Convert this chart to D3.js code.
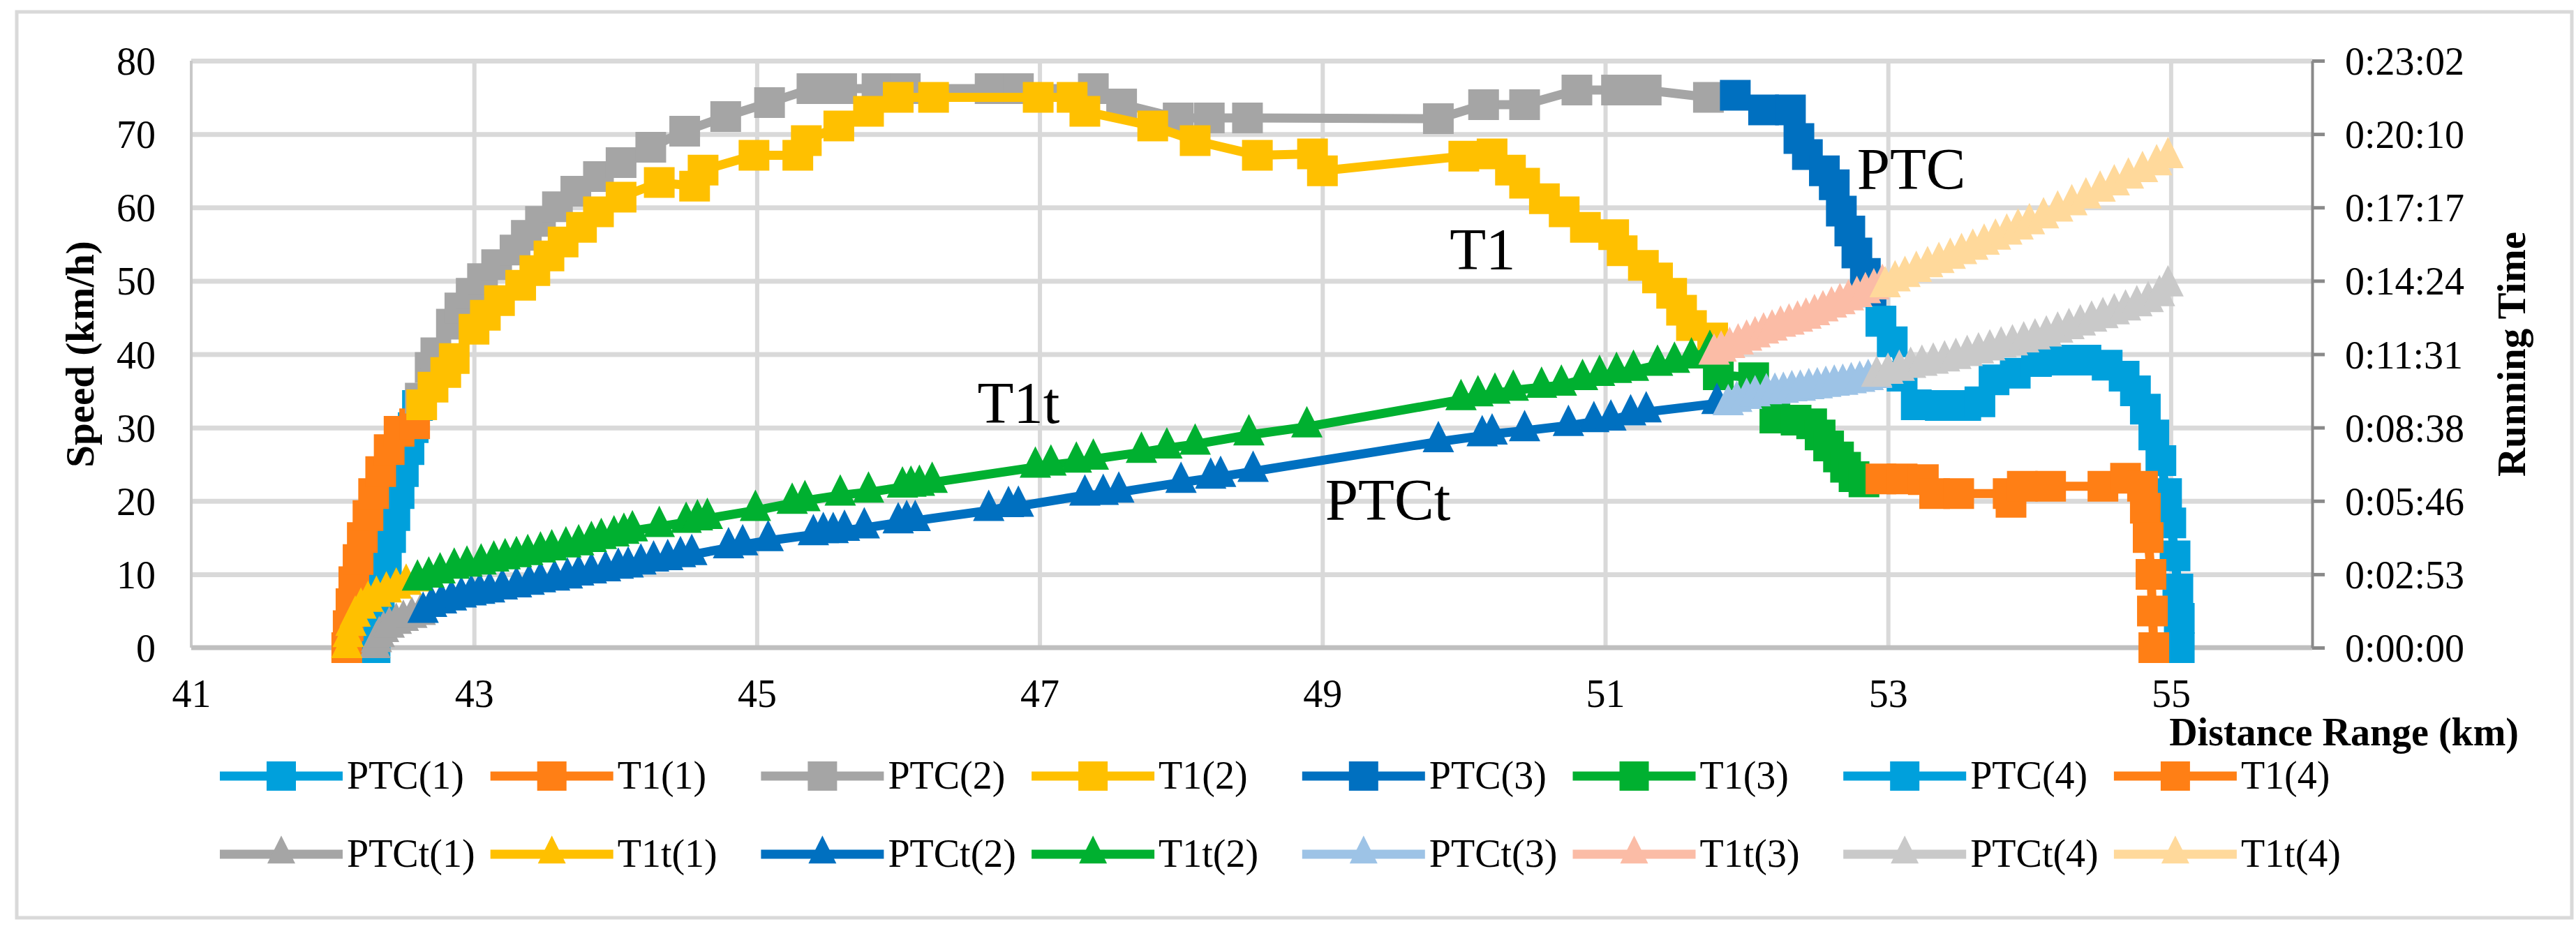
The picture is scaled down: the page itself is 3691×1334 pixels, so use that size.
<!DOCTYPE html>
<html><head><meta charset="utf-8">
<script src="https://cdn.jsdelivr.net/npm/d3@7"></script>
<style>
body{margin:0;background:#fff;}
text{font-family:"Liberation Serif","Times New Roman",serif;fill:#000;}
</style>
</head><body>
<svg id="chart" width="3691" height="1334"></svg>
<script>
// ---------- tick labels ----------
const X_TICKS = [41, 43, 45, 47, 49, 51, 53, 55];
const Y_TICKS = [0, 10, 20, 30, 40, 50, 60, 70, 80];
const TIME_TICK_LABELS = ["0:00:00","0:02:53","0:05:46","0:08:38","0:11:31","0:14:24","0:17:17","0:20:10","0:23:02"];
const TIME_MAX_S = 1382.4;   // 0:23:02.4
const X_DOMAIN = [41, 56];
const Y_DOMAIN = [0, 80];

// ---------- speed series: [distance km, speed km/h] ----------
const ptc1 = [[42.30,0],[42.31,3],[42.33,6],[42.35,9],[42.38,12],[42.41,15],[42.44,18],[42.47,21],[42.50,24],[42.54,27],[42.57,30],[42.60,33]];
const t1_1 = [[42.10,0],[42.11,3],[42.13,6],[42.15,9],[42.18,12],[42.21,15],[42.25,18],[42.29,21],[42.34,24],[42.40,27],[42.47,29.5],[42.58,30.5]];
const ptc2 = [[42.62,34],[42.69,38.2],[42.73,40.2],[42.84,44.1],[42.90,46.3],[42.98,48.3],[43.06,50.3],[43.16,52.2],[43.29,54.2],[43.37,56.2],[43.47,58.1],[43.59,60.1],[43.72,62.2],[43.88,64.2],[44.04,66.1],[44.25,68.2],[44.49,70.4],[44.78,72.4],[45.09,74.3],[45.39,76.2],[45.60,76.2],[45.85,76.2],[46.05,76.2],[46.65,76.2],[46.85,76.2],[47.38,76.2],[47.58,74.1],[47.98,72.2],[48.20,72.2],[48.47,72.2],[49.82,72.1],[50.14,74.0],[50.43,74.0],[50.80,76.0],[51.08,76.0],[51.29,76.0],[51.73,75.0]];
const t1_2 = [[42.63,33.1],[42.71,35.5],[42.80,37.5],[42.86,39.4],[43.00,43.4],[43.08,45.3],[43.18,47.3],[43.33,49.4],[43.43,51.4],[43.53,53.4],[43.63,55.3],[43.76,57.3],[43.88,59.4],[44.04,61.4],[44.31,63.4],[44.56,62.9],[44.62,65.1],[44.98,67.1],[45.29,67.1],[45.35,69.1],[45.58,71.1],[45.79,73.1],[46.00,75.0],[46.25,75.0],[46.99,75.0],[47.23,75.0],[47.32,73.1],[47.80,71.1],[48.10,69.1],[48.54,67.1],[48.93,67.3],[49.00,65.0],[50.00,67.0],[50.20,67.3],[50.33,65.1],[50.43,63.3],[50.57,61.2],[50.71,59.4],[50.86,57.3],[51.06,56.3],[51.12,54.1],[51.27,52.1],[51.37,50.4],[51.47,48.3],[51.54,46.0],[51.61,43.9],[51.76,42.2]];
const ptc3 = [[51.92,75.3],[52.12,73.3],[52.31,73.3],[52.37,69.4],[52.43,67.2],[52.55,65.0],[52.62,63.1],[52.67,59.5],[52.73,56.8],[52.78,53.8],[52.84,51.0],[52.88,48.5],[52.95,44.5]];
const t1_3 = [[51.80,37.2],[52.05,36.8],[52.20,31.3],[52.35,31.0],[52.46,30.5],[52.52,29.0],[52.58,27.5],[52.65,26.0],[52.70,24.6],[52.76,23.3],[52.83,22.6]];
const ptc4 = [[52.95,44.5],[53.03,41.7],[53.10,37.0],[53.20,33.1],[53.37,33.0],[53.55,33.0],[53.65,33.5],[53.75,36.5],[53.90,37.4],[54.05,39.0],[54.20,39.2],[54.40,39.2],[54.55,38.5],[54.67,37.0],[54.75,35.0],[54.82,32.5],[54.88,29.0],[54.93,25.5],[54.97,21.0],[55.00,17.0],[55.03,12.5],[55.05,8.0],[55.06,4.0],[55.06,0]];
const t1_4 = [[52.95,23.0],[53.10,23.0],[53.25,22.9],[53.33,21.0],[53.50,21.0],[53.85,21.0],[53.87,19.8],[53.95,22.0],[54.15,22.0],[54.52,22.0],[54.68,23.1],[54.80,22.0],[54.82,19.0],[54.84,15.0],[54.86,10.0],[54.87,5.0],[54.88,0]];

// ---------- running-time series: [distance km, running time s] ----------
const ptct1 = [[42.30,0],[42.31,14],[42.33,26],[42.36,38],[42.40,48],[42.45,57],[42.50,64],[42.56,71],[42.62,78]];
const t1t1 = [[42.10,0],[42.11,26],[42.13,52],[42.16,74],[42.20,93],[42.25,109],[42.31,121],[42.38,131],[42.45,140],[42.52,149],[42.60,157]];
const ptct2 = [[42.64,83],[42.70,97],[42.77,105],[42.84,112],[42.91,119],[42.98,124],[43.04,128],[43.11,131],[43.20,138],[43.30,143],[43.39,149],[43.47,155],[43.57,159],[43.66,164],[43.74,171],[43.83,176],[43.93,181],[44.02,187],[44.09,190],[44.18,197],[44.27,204],[44.37,207],[44.46,214],[44.54,219],[44.80,235],[44.90,242],[45.08,252],[45.40,266],[45.47,271],[45.54,271],[45.62,276],[45.76,282],[46.00,294],[46.06,299],[46.12,299],[46.64,323],[46.78,332],[46.85,333],[47.32,359],[47.45,361],[47.56,366],[48.00,389],[48.21,399],[48.28,403],[48.51,415],[49.82,485],[50.13,499],[50.20,503],[50.43,511],[50.74,523],[50.92,532],[51.04,536],[51.18,548],[51.29,555],[51.79,575]];
const t1t2 = [[42.60,159],[42.68,166],[42.76,176],[42.86,187],[42.95,192],[43.05,197],[43.14,204],[43.22,209],[43.30,214],[43.38,219],[43.47,225],[43.55,230],[43.65,237],[43.74,242],[43.83,250],[43.90,257],[43.99,263],[44.06,269],[44.12,275],[44.31,285],[44.50,295],[44.58,301],[44.65,304],[44.99,323],[45.25,340],[45.34,346],[45.59,359],[45.79,366],[46.03,378],[46.09,380],[46.15,382],[46.24,389],[46.97,425],[47.08,430],[47.26,437],[47.38,444],[47.72,460],[47.90,470],[48.10,479],[48.48,501],[48.89,520],[49.98,584],[50.10,593],[50.22,599],[50.35,606],[50.55,613],[50.69,618],[50.84,631],[50.96,641],[51.08,648],[51.20,653],[51.37,665],[51.49,672],[51.61,682],[51.74,700]];
const ptct3 = [[51.87,572],[51.93,580],[52.00,587],[52.06,593],[52.14,598],[52.20,599],[52.26,601],[52.32,605],[52.38,606],[52.44,610],[52.50,612],[52.56,615],[52.62,618],[52.68,620],[52.74,624],[52.80,627],[52.86,631],[52.92,636]];
const t1t3 = [[51.77,691],[51.82,698],[51.88,707],[51.94,715],[52.00,724],[52.06,732],[52.12,741],[52.18,748],[52.24,757],[52.30,762],[52.36,769],[52.42,776],[52.48,784],[52.54,793],[52.60,802],[52.66,810],[52.72,819],[52.78,827],[52.84,836],[52.90,845],[52.96,855]];
const ptct4 = [[52.92,639],[53.00,646],[53.08,653],[53.16,660],[53.24,665],[53.32,670],[53.40,675],[53.48,681],[53.56,688],[53.64,694],[53.72,701],[53.80,708],[53.88,713],[53.96,720],[54.04,727],[54.12,734],[54.20,743],[54.28,751],[54.36,760],[54.44,769],[54.52,777],[54.60,786],[54.68,795],[54.76,805],[54.84,815],[54.92,829],[54.98,852]];
const t1t4 = [[52.98,850],[53.05,864],[53.12,874],[53.20,886],[53.28,897],[53.36,907],[53.44,917],[53.52,928],[53.60,938],[53.68,950],[53.76,962],[53.84,974],[53.92,986],[54.00,998],[54.10,1012],[54.20,1028],[54.30,1043],[54.40,1059],[54.50,1075],[54.60,1090],[54.70,1106],[54.80,1121],[54.90,1137],[54.98,1154]];

// ---------- series table ----------
const SERIES = [
  {name:"PTC(1)",  data:ptc1,  color:"#00a0dc", mk:"sq",  axis:"v"},
  {name:"T1(1)",   data:t1_1,  color:"#ff7f15", mk:"sq",  axis:"v"},
  {name:"PTC(2)",  data:ptc2,  color:"#a5a5a5", mk:"sq",  axis:"v"},
  {name:"T1(2)",   data:t1_2,  color:"#ffc000", mk:"sq",  axis:"v"},
  {name:"PTC(3)",  data:ptc3,  color:"#0070c0", mk:"sq",  axis:"v"},
  {name:"T1(3)",   data:t1_3,  color:"#00b030", mk:"sq",  axis:"v"},
  {name:"PTC(4)",  data:ptc4,  color:"#00a0dc", mk:"sq",  axis:"v"},
  {name:"T1(4)",   data:t1_4,  color:"#ff7f15", mk:"sq",  axis:"v"},
  {name:"PTCt(1)", data:ptct1, color:"#a5a5a5", mk:"tri", axis:"t"},
  {name:"T1t(1)",  data:t1t1,  color:"#ffc000", mk:"tri", axis:"t"},
  {name:"PTCt(2)", data:ptct2, color:"#0070c0", mk:"tri", axis:"t"},
  {name:"T1t(2)",  data:t1t2,  color:"#00b030", mk:"tri", axis:"t"},
  {name:"PTCt(3)", data:ptct3, color:"#9dc3e6", mk:"tri", axis:"t"},
  {name:"T1t(3)",  data:t1t3,  color:"#fbbca6", mk:"tri", axis:"t"},
  {name:"PTCt(4)", data:ptct4, color:"#c9c9c9", mk:"tri", axis:"t"},
  {name:"T1t(4)",  data:t1t4,  color:"#ffd99b", mk:"tri", axis:"t"}
];

// in-plot annotations, in data units (km, km/h of baseline)
const ANNOTATIONS = [
  {text:"PTC",  km:52.78, v:62.5},
  {text:"T1",   km:49.90, v:51.6},
  {text:"T1t",  km:46.56, v:30.6},
  {text:"PTCt", km:49.02, v:17.4}
];

// ---------- layout ----------
const W = 3691, H = 1334;
const L = 274, R = 3313, T = 87, B = 928;
const svg = d3.select("#chart");

const x  = d3.scaleLinear().domain(X_DOMAIN).range([L, R]);
const y  = d3.scaleLinear().domain(Y_DOMAIN).range([B, T]);
const yT = d3.scaleLinear().domain([0, TIME_MAX_S]).range([B, T]);

svg.append("rect").attr("width", W).attr("height", H).attr("fill", "#fff");
svg.append("rect").attr("x", 24).attr("y", 17).attr("width", 3661).attr("height", 1298)
  .attr("fill", "#fff").attr("stroke", "#d9d9d9").attr("stroke-width", 5);

// gridlines
const gy = svg.append("g").attr("transform", `translate(${L},0)`)
  .call(d3.axisLeft(y).tickValues(Y_TICKS.filter(d => d > 0)).tickSize(-(R - L)).tickFormat(""));
gy.select(".domain").remove();
gy.selectAll("line").attr("stroke", "#d9d9d9").attr("stroke-width", 7);

const gx = svg.append("g").attr("transform", `translate(0,${B})`)
  .call(d3.axisBottom(x).tickValues(X_TICKS.filter(d => d > X_DOMAIN[0])).tickSize(-(B - T)).tickFormat(""));
gx.select(".domain").remove();
gx.selectAll("line").attr("stroke", "#d9d9d9").attr("stroke-width", 6);

// axis lines
svg.append("line").attr("x1", L).attr("x2", L).attr("y1", T).attr("y2", B)
  .attr("stroke", "#c8c8c8").attr("stroke-width", 4);
svg.append("line").attr("x1", L).attr("x2", R).attr("y1", B).attr("y2", B)
  .attr("stroke", "#bfbfbf").attr("stroke-width", 7);

// x axis labels
const ax = svg.append("g").attr("transform", `translate(0,${B})`)
  .call(d3.axisBottom(x).tickValues(X_TICKS).tickSize(0));
ax.select(".domain").remove();
ax.selectAll("text").attr("y", 85).attr("dy", null)
  .style("font-size", "56px").style("font-family", '"Liberation Serif","Times New Roman",serif').attr("fill", "#000");

// left axis labels
const al = svg.append("g").attr("transform", `translate(${L},0)`)
  .call(d3.axisLeft(y).tickValues(Y_TICKS).tickSize(0));
al.select(".domain").remove();
al.selectAll("text").attr("x", -51).attr("dy", "0.35em").attr("text-anchor", "end")
  .style("font-size", "56px").style("font-family", '"Liberation Serif","Times New Roman",serif').attr("fill", "#000");

// right (time) axis
const timeTickVals = TIME_TICK_LABELS.map((_, i) => i * TIME_MAX_S / (TIME_TICK_LABELS.length - 1));
const ar = svg.append("g").attr("transform", `translate(${R},0)`)
  .call(d3.axisRight(yT).tickValues(timeTickVals).tickSize(18).tickSizeOuter(0)
        .tickFormat((d, i) => TIME_TICK_LABELS[i]));
ar.select(".domain").attr("stroke", "#8a8a8a").attr("stroke-width", 4);
ar.selectAll(".tick line").attr("stroke", "#8a8a8a").attr("stroke-width", 5);
ar.selectAll("text").attr("x", 47).attr("dy", "0.35em").attr("text-anchor", "start")
  .style("font-size", "56px").style("font-family", '"Liberation Serif","Times New Roman",serif').attr("fill", "#000");

// markers
const triangle = {
  draw(ctx, size) {
    const w = Math.sqrt(size);
    ctx.moveTo(0, -w * 2 / 3);
    ctx.lineTo(w / 2, w / 3);
    ctx.lineTo(-w / 2, w / 3);
    ctx.closePath();
  }
};
const SQ = 44, TRI = 45;
const symSq  = d3.symbol().type(d3.symbolSquare).size(SQ * SQ);
const symTri = d3.symbol().type(triangle).size(TRI * TRI);

// series
const plot = svg.append("g");
SERIES.forEach(s => {
  const ys = s.axis === "v" ? y : yT;
  const line = d3.line().x(d => x(d[0])).y(d => ys(d[1]));
  const g = plot.append("g");
  g.append("path").datum(s.data).attr("d", line)
    .attr("fill", "none").attr("stroke", s.color).attr("stroke-width", 13)
    .attr("stroke-linejoin", "round").attr("stroke-linecap", "round");
  g.selectAll("path.m").data(s.data).join("path").attr("class", "m")
    .attr("transform", d => `translate(${x(d[0])},${ys(d[1])})`)
    .attr("d", s.mk === "sq" ? symSq : symTri)
    .attr("fill", s.color);
});

// annotations
ANNOTATIONS.forEach(a => {
  svg.append("text").attr("x", x(a.km)).attr("y", y(a.v))
    .style("font-size", "85px").text(a.text);
});

// axis titles
svg.append("text").attr("transform", `translate(134,${(T + B) / 2}) rotate(-90)`)
  .attr("text-anchor", "middle").style("font-size", "57px").style("font-weight", "bold")
  .text("Speed (km/h)");
svg.append("text").attr("transform", `translate(3618,${(T + B) / 2}) rotate(-90)`)
  .attr("text-anchor", "middle").style("font-size", "57px").style("font-weight", "bold")
  .text("Running Time");
svg.append("text").attr("x", 3609).attr("y", 1068).attr("text-anchor", "end")
  .style("font-size", "56px").style("font-weight", "bold").text("Distance Range (km)");

// legend
const LEG_X0 = 403, LEG_DX = 387.7, LEG_ROWS = [1112, 1224];
const legSq  = d3.symbol().type(d3.symbolSquare).size(42 * 42);
const legTri = d3.symbol().type(triangle).size(40 * 40);
SERIES.forEach((s, i) => {
  const row = Math.floor(i / 8), col = i % 8;
  const cx = LEG_X0 + col * LEG_DX, cy = LEG_ROWS[row];
  const g = svg.append("g").attr("transform", `translate(${cx},${cy})`);
  g.append("line").attr("x1", -88).attr("x2", 88).attr("stroke", s.color).attr("stroke-width", 13);
  g.append("path").attr("d", s.mk === "sq" ? legSq : legTri).attr("fill", s.color);
  g.append("text").attr("x", 94).attr("y", 18).style("font-size", "56px").text(s.name);
});
</script>
</body></html>
